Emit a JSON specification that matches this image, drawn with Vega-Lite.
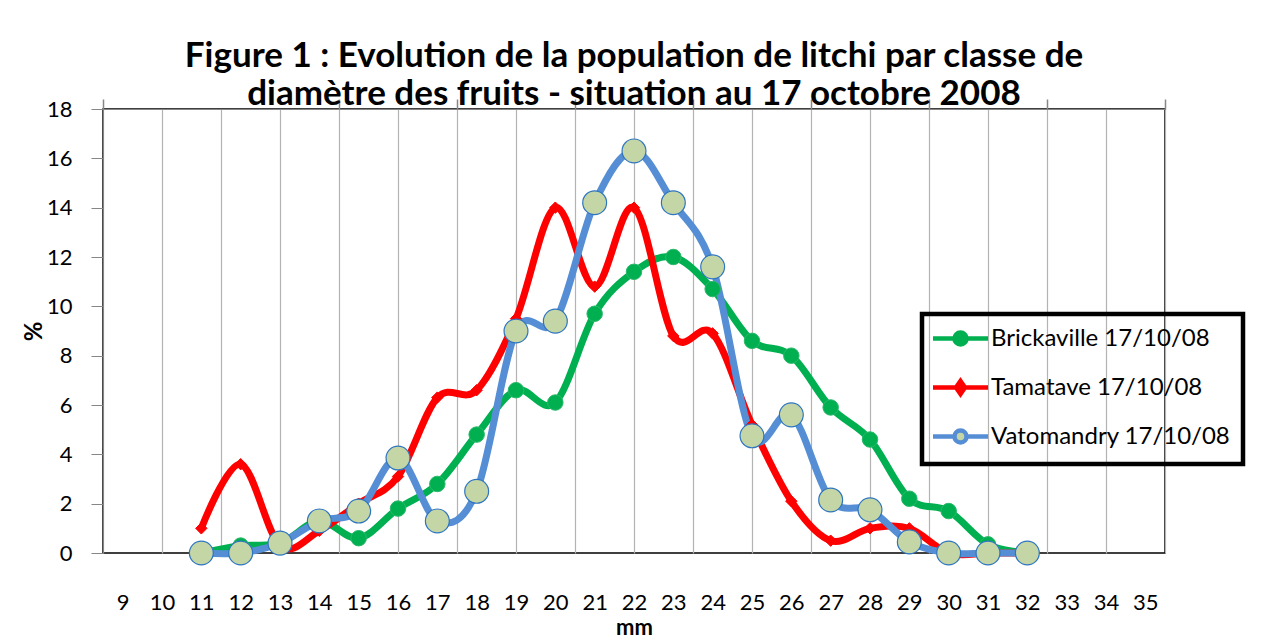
{
  "$schema": "https://vega.github.io/schema/vega-lite/v6.json",
  "width": 1062,
  "height": 444,
  "autosize": "none",
  "padding": {"left": 103, "top": 109, "right": 98, "bottom": 91},
  "background": "white",
  "config": {
    "view": {"stroke": "#000000", "strokeWidth": 1.5},
    "font": "Lato",
    "legend": {"strokeWidth": 4.5}
  },
  "title": {
    "text": ["Figure 1 : Evolution de la population de litchi par classe de", "diamètre des fruits - situation au 17 octobre 2008"],
    "font": "Lato",
    "fontSize": 35,
    "fontWeight": "bold",
    "lineHeight": 38,
    "anchor": "middle",
    "color": "#000000",
    "offset": -14
  },
  "data": {
    "values": [
      {"mm": 11, "serie": "Brickaville 17/10/08", "pct": 0},
      {"mm": 12, "serie": "Brickaville 17/10/08", "pct": 0.3},
      {"mm": 13, "serie": "Brickaville 17/10/08", "pct": 0.4},
      {"mm": 14, "serie": "Brickaville 17/10/08", "pct": 1.3},
      {"mm": 15, "serie": "Brickaville 17/10/08", "pct": 0.6},
      {"mm": 16, "serie": "Brickaville 17/10/08", "pct": 1.8},
      {"mm": 17, "serie": "Brickaville 17/10/08", "pct": 2.8},
      {"mm": 18, "serie": "Brickaville 17/10/08", "pct": 4.8},
      {"mm": 19, "serie": "Brickaville 17/10/08", "pct": 6.6},
      {"mm": 20, "serie": "Brickaville 17/10/08", "pct": 6.1},
      {"mm": 21, "serie": "Brickaville 17/10/08", "pct": 9.7},
      {"mm": 22, "serie": "Brickaville 17/10/08", "pct": 11.4},
      {"mm": 23, "serie": "Brickaville 17/10/08", "pct": 12.0},
      {"mm": 24, "serie": "Brickaville 17/10/08", "pct": 10.7},
      {"mm": 25, "serie": "Brickaville 17/10/08", "pct": 8.6},
      {"mm": 26, "serie": "Brickaville 17/10/08", "pct": 8.0},
      {"mm": 27, "serie": "Brickaville 17/10/08", "pct": 5.9},
      {"mm": 28, "serie": "Brickaville 17/10/08", "pct": 4.6},
      {"mm": 29, "serie": "Brickaville 17/10/08", "pct": 2.2},
      {"mm": 30, "serie": "Brickaville 17/10/08", "pct": 1.7},
      {"mm": 31, "serie": "Brickaville 17/10/08", "pct": 0.35},
      {"mm": 32, "serie": "Brickaville 17/10/08", "pct": 0},
      {"mm": 11, "serie": "Tamatave 17/10/08", "pct": 1.0},
      {"mm": 12, "serie": "Tamatave 17/10/08", "pct": 3.6},
      {"mm": 13, "serie": "Tamatave 17/10/08", "pct": 0.3},
      {"mm": 14, "serie": "Tamatave 17/10/08", "pct": 0.9},
      {"mm": 15, "serie": "Tamatave 17/10/08", "pct": 2.0},
      {"mm": 16, "serie": "Tamatave 17/10/08", "pct": 3.1},
      {"mm": 17, "serie": "Tamatave 17/10/08", "pct": 6.3},
      {"mm": 18, "serie": "Tamatave 17/10/08", "pct": 6.6},
      {"mm": 19, "serie": "Tamatave 17/10/08", "pct": 9.5},
      {"mm": 20, "serie": "Tamatave 17/10/08", "pct": 14.0},
      {"mm": 21, "serie": "Tamatave 17/10/08", "pct": 10.8},
      {"mm": 22, "serie": "Tamatave 17/10/08", "pct": 14.0},
      {"mm": 23, "serie": "Tamatave 17/10/08", "pct": 8.8},
      {"mm": 24, "serie": "Tamatave 17/10/08", "pct": 8.9},
      {"mm": 25, "serie": "Tamatave 17/10/08", "pct": 5.2},
      {"mm": 26, "serie": "Tamatave 17/10/08", "pct": 2.1},
      {"mm": 27, "serie": "Tamatave 17/10/08", "pct": 0.5},
      {"mm": 28, "serie": "Tamatave 17/10/08", "pct": 1.0},
      {"mm": 29, "serie": "Tamatave 17/10/08", "pct": 1.0},
      {"mm": 30, "serie": "Tamatave 17/10/08", "pct": 0},
      {"mm": 31, "serie": "Tamatave 17/10/08", "pct": 0},
      {"mm": 32, "serie": "Tamatave 17/10/08", "pct": 0},
      {"mm": 11, "serie": "Vatomandry 17/10/08", "pct": 0},
      {"mm": 12, "serie": "Vatomandry 17/10/08", "pct": 0},
      {"mm": 13, "serie": "Vatomandry 17/10/08", "pct": 0.4},
      {"mm": 14, "serie": "Vatomandry 17/10/08", "pct": 1.3},
      {"mm": 15, "serie": "Vatomandry 17/10/08", "pct": 1.7},
      {"mm": 16, "serie": "Vatomandry 17/10/08", "pct": 3.85},
      {"mm": 17, "serie": "Vatomandry 17/10/08", "pct": 1.3},
      {"mm": 18, "serie": "Vatomandry 17/10/08", "pct": 2.5},
      {"mm": 19, "serie": "Vatomandry 17/10/08", "pct": 9.0},
      {"mm": 20, "serie": "Vatomandry 17/10/08", "pct": 9.4},
      {"mm": 21, "serie": "Vatomandry 17/10/08", "pct": 14.2},
      {"mm": 22, "serie": "Vatomandry 17/10/08", "pct": 16.3},
      {"mm": 23, "serie": "Vatomandry 17/10/08", "pct": 14.2},
      {"mm": 24, "serie": "Vatomandry 17/10/08", "pct": 11.6},
      {"mm": 25, "serie": "Vatomandry 17/10/08", "pct": 4.75},
      {"mm": 26, "serie": "Vatomandry 17/10/08", "pct": 5.6},
      {"mm": 27, "serie": "Vatomandry 17/10/08", "pct": 2.15},
      {"mm": 28, "serie": "Vatomandry 17/10/08", "pct": 1.75},
      {"mm": 29, "serie": "Vatomandry 17/10/08", "pct": 0.45},
      {"mm": 30, "serie": "Vatomandry 17/10/08", "pct": 0},
      {"mm": 31, "serie": "Vatomandry 17/10/08", "pct": 0},
      {"mm": 32, "serie": "Vatomandry 17/10/08", "pct": 0}
    ]
  },
  "resolve": {"axis": {"x": "independent"}},
  "layer": [
    {
      "mark": {"type": "line", "interpolate": "cardinal", "strokeWidth": 7, "strokeCap": "round", "strokeJoin": "round"},
      "encoding": {
        "x": {
          "field": "mm", "type": "quantitative",
          "scale": {"domain": [8.5, 35.5], "nice": false, "zero": false},
          "axis": {
            "values": [9,10,11,12,13,14,15,16,17,18,19,20,21,22,23,24,25,26,27,28,29,30,31,32,33,34,35],
            "grid": false, "ticks": false, "domain": false,
            "labelFont": "Lato", "labelFontSize": 22, "labelColor": "#000000", "labelPadding": 39,
            "labelOverlap": false, "labelFlush": false,
            "title": "mm", "titleFont": "Lato", "titleFontSize": 22, "titleFontWeight": "bold", "titleColor": "#000000", "titlePadding": 4
          }
        },
        "y": {
          "field": "pct", "type": "quantitative",
          "scale": {"domain": [0, 18], "nice": false},
          "axis": {
            "values": [0,2,4,6,8,10,12,14,16,18],
            "grid": false, "tickSize": 12, "tickColor": "#868686", "domainColor": "#868686",
            "labelFont": "Lato", "labelFontSize": 22, "labelColor": "#000000", "labelPadding": 19,
            "title": "%", "titleFont": "Lato", "titleFontSize": 24, "titleFontWeight": "bold", "titleColor": "#000000", "titlePadding": 0
          }
        },
        "color": {
          "field": "serie", "type": "nominal",
          "scale": {"domain": ["Vatomandry 17/10/08", "Tamatave 17/10/08", "Brickaville 17/10/08"], "range": ["#558ED5", "#FF0000", "#00B050"]},
          "legend": null
        }
      }
    },
    {
      "transform": [{"filter": "datum.serie == 'Brickaville 17/10/08'"}],
      "mark": {"type": "point", "shape": "circle", "filled": true, "opacity": 1, "size": 240, "fill": "#00B050", "stroke": "#2BB86A", "strokeWidth": 1},
      "encoding": {
        "x": {
          "field": "mm", "type": "quantitative",
          "axis": {
            "values": [8.5,10,11.5,13,14.5,16,17.5,19,20.5,22,23.5,25,26.5,28,29.5,31,32.5,34,35.5],
            "grid": true, "gridColor": "#B3B3B3", "gridWidth": 1.2, "ticks": false, "labels": false,
            "domain": true, "domainColor": "#868686", "title": null
          }
        },
        "y": {"field": "pct", "type": "quantitative"}
      }
    },
    {
      "transform": [{"filter": "datum.serie == 'Tamatave 17/10/08'"}],
      "mark": {"type": "point", "shape": "diamond", "filled": true, "opacity": 1, "size": 130, "fill": "#FF0000", "stroke": "#FF0000", "strokeWidth": 1},
      "encoding": {
        "x": {"field": "mm", "type": "quantitative", "axis": null},
        "y": {"field": "pct", "type": "quantitative"}
      }
    },
    {
      "transform": [{"filter": "datum.serie == 'Vatomandry 17/10/08'"}],
      "mark": {"type": "point", "shape": "circle", "filled": true, "opacity": 1, "size": 570, "fill": "#C4D6A6", "stroke": "#2E75C0", "strokeWidth": 1.2},
      "encoding": {
        "x": {"field": "mm", "type": "quantitative", "axis": null},
        "y": {"field": "pct", "type": "quantitative"}
      }
    },
    {
      "mark": {"type": "point", "filled": true, "size": 0, "opacity": 1},
      "encoding": {
        "x": {
          "field": "mm", "type": "quantitative",
          "axis": {
            "values": [8.5,14.5,17.5,20.5,23.5,26.5,29.5,32.5,35.5],
            "grid": false, "ticks": true, "tickSize": 10, "tickColor": "#868686", "tickWidth": 1.5, "labels": false,
            "domain": false, "title": null
          }
        },
        "y": {"field": "pct", "type": "quantitative"},
        "fill": {
          "field": "serie", "type": "nominal",
          "scale": {"domain": ["Brickaville 17/10/08", "Tamatave 17/10/08", "Vatomandry 17/10/08"], "range": ["#00B050", "#FF0000", "#C4D6A6"]},
          "legend": {
            "title": null, "orient": "none", "legendX": 819, "legendY": 205,
            "strokeColor": "#000000", "padding": 12, "rowPadding": 18,
            "labelFont": "Lato", "labelFontSize": 24, "labelColor": "#000000", "labelOffset": 18, "labelLimit": 400,
            "symbolSize": 400, "symbolOffset": 14, "symbolOpacity": 1, "symbolStrokeWidth": 4.5
          }
        },
        "stroke": {
          "field": "serie", "type": "nominal",
          "scale": {"domain": ["Brickaville 17/10/08", "Tamatave 17/10/08", "Vatomandry 17/10/08"], "range": ["#00B050", "#FF0000", "#558ED5"]},
          "legend": {"title": null, "orient": "none", "legendX": 819, "legendY": 205}
        },
        "shape": {
          "field": "serie", "type": "nominal",
          "scale": {"domain": ["Brickaville 17/10/08", "Tamatave 17/10/08", "Vatomandry 17/10/08"], "range": [
            "M-2.75,0H-0.6M0.6,0H2.75M0.6,0A0.6,0.6,0,1,1,-0.6,0A0.6,0.6,0,1,1,0.6,0Z",
            "M-2.75,0H2.75M0,-0.65L0.45,0L0,0.65L-0.45,0Z",
            "M-2.75,0H-0.6M0.6,0H2.75M0.6,0A0.6,0.6,0,1,1,-0.6,0A0.6,0.6,0,1,1,0.6,0Z"
          ]},
          "legend": {"title": null, "orient": "none", "legendX": 819, "legendY": 205}
        }
      }
    }
  ]
}
